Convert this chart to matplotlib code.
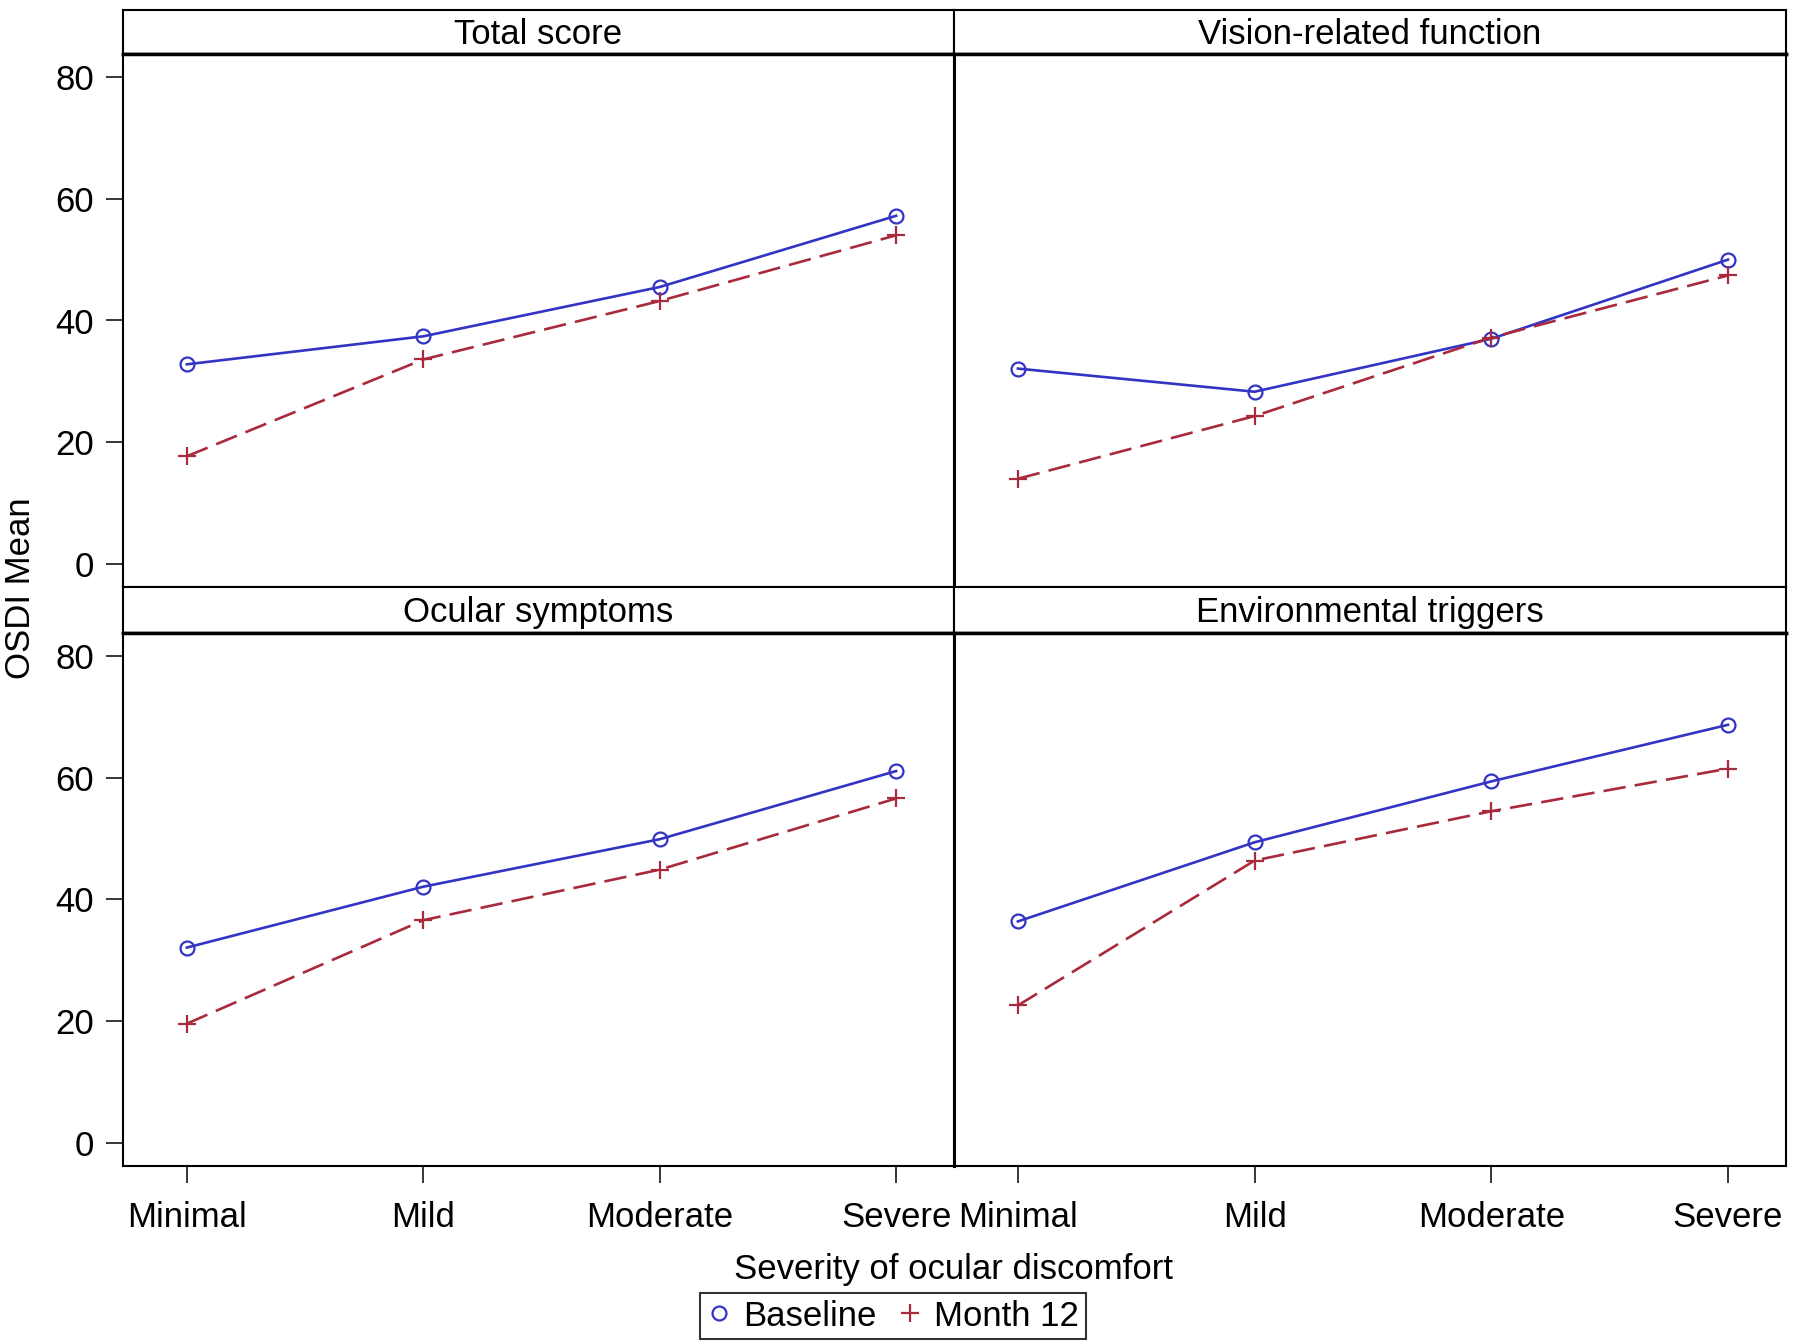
import matplotlib
matplotlib.use("Agg")
import matplotlib.pyplot as plt
from matplotlib.lines import Line2D

plt.rcParams['font.family'] = ['Liberation Sans', 'DejaVu Sans']

severity = ['Minimal', 'Mild', 'Moderate', 'Severe']
panels = ['Total score', 'Vision-related function', 'Ocular symptoms', 'Environmental triggers']

baseline = {
    'Total score': [32.8, 37.4, 45.5, 57.2],
    'Vision-related function': [32.1, 28.3, 37.0, 50.0],
    'Ocular symptoms': [32.1, 42.1, 49.9, 61.1],
    'Environmental triggers': [36.4, 49.4, 59.4, 68.7],
}
month12 = {
    'Total score': [17.7, 33.6, 43.2, 54.0],
    'Vision-related function': [14.0, 24.3, 37.2, 47.4],
    'Ocular symptoms': [19.6, 36.6, 44.9, 56.6],
    'Environmental triggers': [22.6, 46.4, 54.5, 61.5],
}
yticks = [0, 20, 40, 60, 80]

blue = '#3333c4'
red = '#a82a3c'
fs = 25

fig = plt.figure(figsize=(18, 13.44), dpi=100)

xs = [123 / 1800, 954 / 1800, 1786 / 1800]
rows = [(10, 54, 587), (587, 633, 1166)]  # strip top, strip bottom/panel top, panel bottom (px from top)

def fy(px):
    return 1 - px / 1344

x = list(range(len(severity)))
for i, name in enumerate(panels):
    r, c = divmod(i, 2)
    st, sb, pb = rows[r]
    x0, x1 = xs[c], xs[c + 1]

    strip = fig.add_axes([x0, fy(sb), x1 - x0, fy(st) - fy(sb)])
    strip.set_xticks([])
    strip.set_yticks([])
    for s in strip.spines.values():
        s.set_linewidth(1.5)
    strip.spines['bottom'].set_linewidth(2.5)
    strip.text(0.5, 0.45, name, ha='center', va='center', fontsize=fs, transform=strip.transAxes)

    ax = fig.add_axes([x0, fy(pb), x1 - x0, fy(sb) - fy(pb)])
    ax.plot(x, baseline[name], color=blue, lw=1.9, marker='o', ms=10, mfc='none', mec=blue, mew=1.6)
    ax.plot(x, month12[name], color=red, lw=1.9, dashes=(8.5, 3.5), marker='+', ms=13, mec=red, mew=1.6)
    ax.set_xlim(-0.27, 3.245)
    ax.set_ylim(-3.78, 83.78)
    for s in ax.spines.values():
        s.set_linewidth(1.5)
    ax.spines['top'].set_linewidth(2.5)
    if c == 0:
        ax.spines['right'].set_linewidth(2.2)
    else:
        ax.spines['left'].set_linewidth(2.2)
    ax.tick_params(direction='out', length=12, width=1.1, labelsize=fs, pad=9)
    ax.tick_params(axis='x', pad=13)
    ax.set_yticks(yticks)
    ax.set_xticks(x)
    if c == 0:
        ax.set_yticklabels([str(v) for v in yticks])
    else:
        ax.tick_params(axis='y', left=False, labelleft=False)
    if r == 1:
        ax.set_xticklabels(severity)
    else:
        ax.tick_params(axis='x', bottom=False, labelbottom=False)

fig.text(954 / 1800, fy(1269), 'Severity of ocular discomfort', ha='center', va='center', fontsize=fs)
fig.text(21 / 1800, fy(588), 'OSDI Mean', ha='center', va='center', rotation=90, fontsize=fs)

handles = [
    Line2D([], [], ls='none', marker='o', ms=10, mfc='none', mec=blue, mew=1.6, label='Baseline'),
    Line2D([], [], ls='none', marker='+', ms=13, mec=red, mew=1.6, label='Month 12'),
]
leg = fig.legend(handles=handles, loc='center', bbox_to_anchor=(893 / 1800, fy(1316)), ncol=2,
                 fontsize=fs, frameon=True, fancybox=False, edgecolor='black', handlelength=0.7,
                 handletextpad=0.35, columnspacing=0.6, borderpad=0.2, borderaxespad=0.2)
leg.get_frame().set_linewidth(1.5)

fig.savefig('out.png', dpi=100)
